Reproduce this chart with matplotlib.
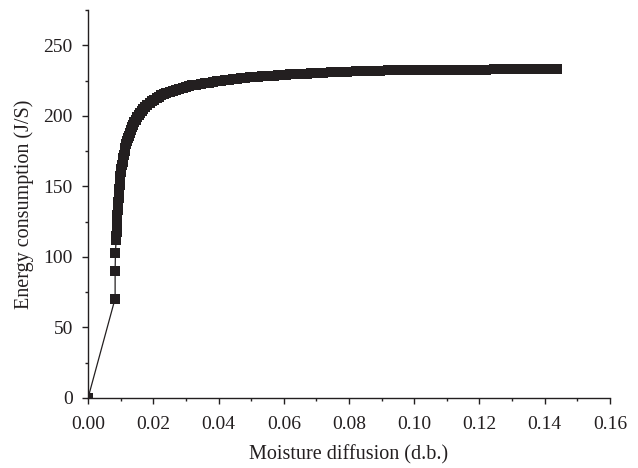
import matplotlib
matplotlib.use("Agg")
import matplotlib.pyplot as plt
from matplotlib.ticker import MultipleLocator

# moisture diffusion (d.b.) vs energy consumption (J/S)
moisture = [
    0.0, 0.0083, 0.0083, 0.0084, 0.0086,
    0.0087, 0.0088, 0.00885, 0.0089, 0.00895, 0.0090, 0.0091, 0.0092,
    0.0093, 0.0094, 0.0095, 0.0096, 0.0097, 0.0098, 0.00995, 0.0101,
    0.01025, 0.0104, 0.0106, 0.0108, 0.0110, 0.0112, 0.01145, 0.0117,
    0.01195, 0.0122, 0.0125, 0.0128, 0.01315, 0.0135, 0.01385, 0.0142,
    0.0146, 0.0150, 0.0155, 0.0160, 0.0165, 0.0170, 0.0176, 0.0182,
    0.01885, 0.0195, 0.02025, 0.0210, 0.02175, 0.0225, 0.02325, 0.0240,
    0.0250, 0.0260, 0.0270, 0.0280, 0.0290, 0.0300, 0.0310, 0.0320,
    0.03325, 0.0345, 0.03575, 0.0370, 0.03825, 0.0395, 0.04075, 0.0420,
    0.04325, 0.0445, 0.04575, 0.0470, 0.04825, 0.0495, 0.05075, 0.0520,
    0.05325, 0.0545, 0.05575, 0.0570, 0.05825, 0.0595, 0.06075, 0.0620,
    0.06325, 0.0645, 0.06575, 0.0670, 0.06825, 0.0695, 0.0720, 0.0745,
    0.0770, 0.0795, 0.0820, 0.0845, 0.0870, 0.0895, 0.0920, 0.0945,
    0.0970, 0.0995, 0.1020, 0.1045, 0.1070, 0.1095, 0.1120, 0.1145,
    0.1170, 0.1195, 0.1220, 0.1245, 0.1270, 0.1295, 0.1320, 0.1345,
    0.1370, 0.1395, 0.1420, 0.1437,
]
energy = [
    0.0, 70.5, 90.0, 103.0, 112.0,
    115.0, 118.0, 121.0, 124.0, 127.0, 130.0, 133.0, 136.0,
    139.0, 142.0, 145.0, 148.0, 151.0, 154.0, 157.0, 160.0,
    162.5, 165.0, 167.5, 170.0, 172.5, 175.0, 177.5, 180.0,
    182.0, 184.0, 186.0, 188.0, 190.0, 192.0, 193.8, 195.5,
    197.3, 199.0, 200.5, 202.0, 203.5, 205.0, 206.5, 208.0,
    209.3, 210.5, 211.5, 212.5, 213.5, 214.5, 215.3, 216.0,
    216.8, 217.5, 218.3, 219.0, 219.8, 220.5, 221.0, 221.5,
    222.0, 222.5, 223.0, 223.5, 224.0, 224.5, 224.9, 225.3,
    225.6, 226.0, 226.3, 226.6, 226.9, 227.2, 227.45, 227.7,
    227.9, 228.1, 228.3, 228.5, 228.7, 228.9, 229.1, 229.3,
    229.5, 229.7, 229.85, 230.0, 230.15, 230.3, 230.6, 230.9,
    231.1, 231.4, 231.6, 231.8, 232.0, 232.1, 232.2, 232.3,
    232.4, 232.5, 232.5, 232.6, 232.6, 232.7, 232.7, 232.8,
    232.8, 232.8, 232.8, 232.9, 232.9, 232.9, 232.9, 233.0,
    233.0, 233.0, 233.0, 233.0,
]

plt.rcParams["font.family"] = ["Liberation Serif", "DejaVu Serif"]
plt.rcParams["font.size"] = 14

ink = "#231f20"

fig = plt.figure(figsize=(6.38, 4.68), dpi=100)
ax = fig.add_axes([0.138, 0.1496, 0.818, 0.829])

ax.plot(moisture, energy, color=ink, linewidth=0.9, marker="s",
        markersize=7.5, markeredgewidth=0, markerfacecolor=ink)

ax.set_xlim(0, 0.16)
ax.set_ylim(0, 275)
ax.xaxis.set_major_locator(MultipleLocator(0.02))
ax.xaxis.set_minor_locator(MultipleLocator(0.01))
ax.yaxis.set_minor_locator(MultipleLocator(25))
ax.set_yticks([0, 50, 100, 150, 200, 250])
ax.xaxis.set_major_formatter(plt.FuncFormatter(lambda v, _: f"{v:.2f}"))

for side in ("top", "right"):
    ax.spines[side].set_visible(False)
for side in ("left", "bottom"):
    ax.spines[side].set_color(ink)
    ax.spines[side].set_linewidth(1.0)

ax.tick_params(which="major", direction="out", length=4, width=1.0,
               colors=ink, labelcolor=ink, labelsize=14)
ax.tick_params(which="minor", direction="out", length=2.5, width=1.0,
               colors=ink)
ax.tick_params(axis="x", which="major", pad=9)
ax.tick_params(axis="y", which="major", pad=7)

ax.set_xlabel("Moisture diffusion (d.b.)", fontsize=14.5, color=ink, labelpad=9)
ax.set_ylabel("Energy consumption (J/S)", fontsize=14.5, color=ink, labelpad=7)

fig.savefig("out.png", dpi=100)
